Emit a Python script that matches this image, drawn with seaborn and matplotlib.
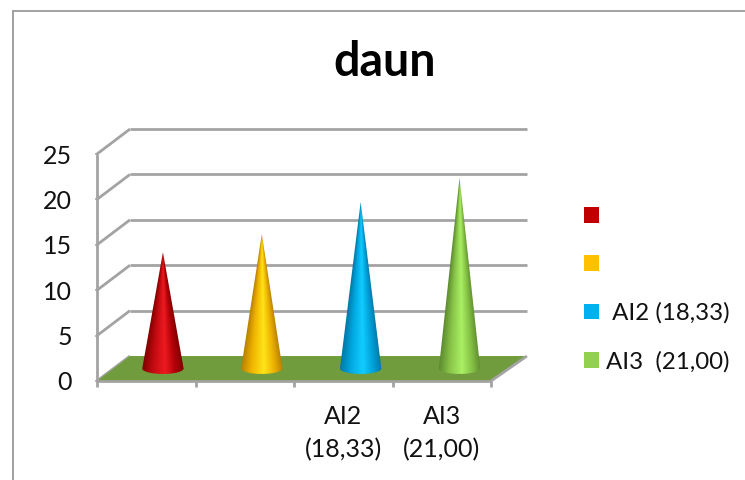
import numpy as np
import pandas as pd
import matplotlib
matplotlib.use("Agg")
import matplotlib.pyplot as plt
from matplotlib.colors import LinearSegmentedColormap
from matplotlib.patches import Patch, Polygon, Rectangle
import seaborn as sns

groups = ["AI0", "AI1", "AI2", "AI3"]
values = [12.8, 14.8, 18.33, 21.0]
tick_labels = ["", "", "AI2\n(18,33)", "AI3\n(21,00)"]
legend_labels = ["", "", " AI2 (18,33)", "AI3  (21,00)"]
title = "daun"
y_ticks = [0, 5, 10, 15, 20, 25]

legend_colors = ["#C00000", "#FFC000", "#00B0F0", "#92D050"]
cone_shades = [
    ["#7E0000", "#C00A10", "#EE1A20", "#B00008", "#7E0000"],
    ["#B88000", "#F0B400", "#FFE418", "#EBB000", "#B88000"],
    ["#0078A8", "#00A8E0", "#12CCFF", "#00A0D8", "#0078A8"],
    ["#5E8C30", "#88C448", "#AAF064", "#84C044", "#5E8C30"],
]

WIDTH, HEIGHT = 745, 480
GRAY = "#A3A3A3"
FLOOR = "#719C3D"
DEPTH_Y = 2.75        # rise from the front plane to the back wall
DEPTH_X_LEFT = 0.335  # sideways shift of the back wall, left end
DEPTH_X_RIGHT = 0.365 # sideways shift of the back wall, right end
CONE_DEPTH = 0.5
CONE_WIDTH = 0.42
BASE_MINOR = 0.6


def depth_shift(x):
    """Sideways shift of the back wall at category position x."""
    return DEPTH_X_LEFT + (x + 0.5) / 4 * (DEPTH_X_RIGHT - DEPTH_X_LEFT)


sns.set_theme(style="white")
plt.rcParams["font.family"] = ["Lato", "DejaVu Sans"]

fig = plt.figure(figsize=(WIDTH / 100, HEIGHT / 100), dpi=100)
ax = fig.add_axes([97 / WIDTH, 1 - 381 / HEIGHT, 394 / WIDTH, 227 / HEIGHT])

# Page frame around the chart area
fig.add_artist(Rectangle((13 / WIDTH, -0.1), 1, 1 - 10.5 / HEIGHT + 0.1,
                         transform=fig.transFigure, fill=False,
                         edgecolor="#9A9A9A", linewidth=1.3))

data = pd.DataFrame({"group": groups, "value": values})
sns.barplot(data=data, x="group", y="value", color="white", width=CONE_WIDTH, ax=ax)
ax.set_xlim(-0.5, 3.5)
ax.set_ylim(0, 25)
ax.set_xlabel("")
ax.set_ylabel("")
sns.despine(ax=ax, top=True, right=True, left=True, bottom=True)

line = dict(color=GRAY, linewidth=2.0, clip_on=False, solid_capstyle="butt")
back_left = -0.5 + DEPTH_X_LEFT
back_right = 3.5 + DEPTH_X_RIGHT

# Back wall gridlines and the slanted side wall
for v in y_ticks:
    ax.plot([-0.5, back_left], [v, v + DEPTH_Y], **line, zorder=1)
    if v > 0:
        ax.plot([back_left, back_right], [v + DEPTH_Y, v + DEPTH_Y], **line, zorder=1)

# Floor
ax.add_patch(Polygon([(-0.5, 0), (3.5, 0), (back_right, DEPTH_Y), (back_left, DEPTH_Y)],
                     closed=True, facecolor=FLOOR, edgecolor="none", clip_on=False, zorder=2))
ax.plot([3.5, back_right], [0, DEPTH_Y], **line, zorder=2)

# Front axis lines
ax.plot([-0.5, -0.5], [0, 25], **line, zorder=3)
ax.plot([-0.5, 3.5], [0, 0], **line, zorder=3)

# Cones built from the bars' positions and heights
for bar, stops in zip(list(ax.patches), cone_shades):
    half = bar.get_width() / 2
    front = bar.get_x() + half
    xc = front + CONE_DEPTH * depth_shift(front)
    y0 = CONE_DEPTH * DEPTH_Y
    apex = y0 + bar.get_height()
    bar.set_visible(False)

    theta = np.linspace(np.pi, 2 * np.pi, 60)
    outline = [(xc, apex)] + list(zip(xc + half * np.cos(theta), y0 + BASE_MINOR * np.sin(theta)))
    clip = Polygon(outline, closed=True, facecolor="none", edgecolor="none", transform=ax.transData)
    ax.add_patch(clip)

    xs = np.linspace(xc - half, xc + half, 200)
    ys = np.linspace(y0 - BASE_MINOR, apex, 400)
    gx, gy = np.meshgrid(xs, ys)
    local = np.clip((apex - gy) / (apex - y0), 0.002, 1) * half
    shade = np.clip((gx - xc) / local * 0.5 + 0.5, 0, 1)
    cmap = LinearSegmentedColormap.from_list(
        "cone", list(zip([0, 0.25, 0.55, 0.8, 1], stops)))
    im = ax.imshow(shade, cmap=cmap, vmin=0, vmax=1, origin="lower", aspect="auto",
                   extent=(xs[0], xs[-1], ys[0], ys[-1]), zorder=4, clip_on=True,
                   interpolation="bilinear")
    im.set_clip_path(clip)

ax.set_xlim(-0.5, 3.5)
ax.set_ylim(0, 25)

# Axis ticks
ax.set_xticks(np.arange(4))
ax.set_xticklabels(tick_labels, fontsize=18, color="#111111", linespacing=1.52)
ax.tick_params(axis="x", length=0, pad=17.5)
for edge in np.arange(5) - 0.5:
    ax.plot([edge, edge], [0, -0.65], **line, zorder=3)
ax.set_yticks(y_ticks)
ax.set_yticklabels([str(v) for v in y_ticks], fontsize=18, color="#111111")
ax.tick_params(axis="y", length=0, pad=18)
for v in y_ticks:
    ax.plot([-0.5, -0.5 - 0.012], [v, v], color=GRAY, linewidth=1.5, clip_on=False, zorder=3)

fig.text(385 / WIDTH, 1 - 62 / HEIGHT, title, ha="center", va="center",
         fontsize=33.5, fontweight="bold", color="#000000")

handles = [Patch(facecolor=c, edgecolor="none") for c in legend_colors]
fig.legend(handles, legend_labels, loc="center left", frameon=False,
           bbox_to_anchor=(584 / WIDTH, 1 - 289.5 / HEIGHT), fontsize=17.3,
           borderpad=0, borderaxespad=0,
           handlelength=0.62, handleheight=0.62, handletextpad=0.29, labelspacing=1.12,
           labelcolor="#111111")

fig.savefig("out.png", dpi=100)
